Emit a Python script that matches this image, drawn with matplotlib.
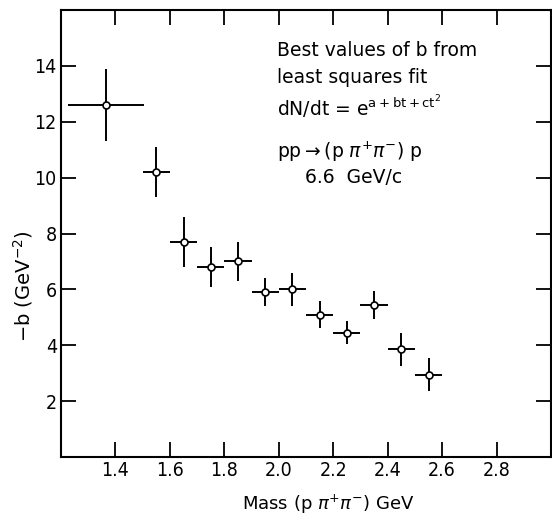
import matplotlib
matplotlib.use("Agg")
import matplotlib.pyplot as plt
import numpy as np

# mass bins (GeV), bin half-widths, -b values and errors
mass = [1.365, 1.55, 1.65, 1.75, 1.85, 1.95, 2.05, 2.15, 2.25, 2.35, 2.45, 2.55]
mass_err = [0.14, 0.05, 0.05, 0.05, 0.05, 0.05, 0.05, 0.05, 0.05, 0.05, 0.05, 0.05]
minus_b = [12.6, 10.2, 7.7, 6.8, 7.0, 5.9, 6.0, 5.1, 4.45, 5.45, 3.85, 2.95]
b_err = [1.3, 0.9, 0.9, 0.7, 0.7, 0.5, 0.6, 0.5, 0.42, 0.5, 0.6, 0.6]

xticks = [1.4, 1.6, 1.8, 2.0, 2.2, 2.4, 2.6, 2.8]
yticks = [2, 4, 6, 8, 10, 12, 14]

fig = plt.figure(figsize=(5.52, 5.17), dpi=100)
ax = fig.add_axes([61 / 552, (517 - 457) / 517, 490 / 552, 447 / 517])

ax.errorbar(mass, minus_b, xerr=mass_err, yerr=b_err, fmt='o', color='black',
            mfc='white', mec='black', ms=5, mew=1.2, elinewidth=1.4, capsize=0)

ax.set_xlim(1.2, 3.0)
ax.set_ylim(0, 16)
ax.set_xticks(xticks)
ax.set_xticklabels(['%.1f' % t for t in xticks])
ax.set_yticks(yticks)
ax.tick_params(direction='in', length=11, width=1.3, top=True, right=True,
               labelsize=14, pad=3)
for lab in ax.get_xticklabels() + ax.get_yticklabels():
    lab.set_fontstretch('condensed')
for s in ax.spines.values():
    s.set_linewidth(1.5)

ax.set_xlabel(r'Mass (p $\pi^{+}\pi^{-}$) GeV', fontsize=13)
ax.xaxis.set_label_coords(0.546, -0.107)
ax.xaxis.label.set_va('center')
ax.set_ylabel(r'$-$b (GeV$^{-2}$)', fontsize=14)
ax.yaxis.set_label_coords(-0.078, 0.383)
ax.yaxis.label.set_va('center')

txt = dict(transform=ax.transAxes, fontsize=13.5, va='center', ha='left')
ax.text(0.44, 0.909, 'Best values of b from', **txt)
ax.text(0.44, 0.85, 'least squares fit', **txt)
ax.text(0.44, 0.784, r'dN/dt = e$^{\rm a+bt+ct^2}$', **txt)
ax.text(0.44, 0.682, r'pp$\rightarrow$(p $\pi^{+}\pi^{-}$) p', **txt)
ax.text(0.497, 0.626, '6.6  GeV/c', **txt)

fig.savefig('out.png', dpi=100)
